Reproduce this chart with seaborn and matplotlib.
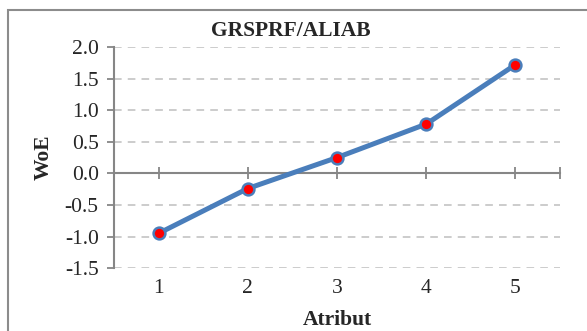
import matplotlib
matplotlib.use("Agg")
import matplotlib.pyplot as plt
import seaborn as sns
import pandas as pd
from matplotlib.patches import Rectangle

# data
atribut = [1, 2, 3, 4, 5]
woe = [-0.95, -0.24, 0.25, 0.78, 1.72]
y_ticks = [-1.5, -1.0, -0.5, 0.0, 0.5, 1.0, 1.5, 2.0]

df = pd.DataFrame({"Atribut": atribut, "WoE": woe})

sns.set_style("white")
plt.rcParams["font.family"] = ["Liberation Serif", "DejaVu Serif"]

fig = plt.figure(figsize=(5.87, 3.31), dpi=100)
ax = fig.add_axes([0.1942, 0.190, 0.7598, 0.668])

axis_gray = "#868686"
grid_gray = "#BFBFBF"

# dashed grid (zero line is drawn by the x axis)
for v in y_ticks:
    if v != 0:
        ax.axhline(v, color=grid_gray, lw=1.1, ls=(0, (5, 4)), zorder=0)

sns.lineplot(data=df, x="Atribut", y="WoE", ax=ax, color="#4A7EBB",
             linewidth=3.6, marker="o", markersize=8.5,
             markerfacecolor="red", markeredgecolor="#4A7EBB",
             markeredgewidth=1.8, zorder=3)

ax.set_xlim(0.5, 5.5)
ax.set_ylim(-1.5, 2.0)
ax.set_yticks(y_ticks)
ax.set_yticklabels([f"{v:.1f}" for v in y_ticks], fontsize=15.5)

# x axis line at zero with crossing ticks, labels at bottom
ax.spines["bottom"].set_position(("data", 0))
ax.spines["bottom"].set_color(axis_gray)
ax.spines["bottom"].set_linewidth(1.5)
ax.spines["left"].set_color(axis_gray)
ax.spines["left"].set_linewidth(1.5)
ax.spines["top"].set_visible(False)
ax.spines["right"].set_visible(False)
ax.set_xticks(atribut + [5.5])
ax.tick_params(axis="x", bottom=True, direction="inout", length=9, width=1.3,
               color=axis_gray, labelbottom=False)
ax.tick_params(axis="y", left=True, direction="out", length=5, width=1.3,
               color=axis_gray, pad=6)

sec = ax.secondary_xaxis(0)
sec.set_xticks(atribut)
sec.set_xticklabels([str(a) for a in atribut], fontsize=15.5)
sec.tick_params(length=0, pad=8)
sec.spines["bottom"].set_visible(False)

ax.set_xlabel("")
ax.set_ylabel("WoE", fontsize=15.5, fontweight="bold", labelpad=8)
fig.text(0.574, 0.033, "Atribut", ha="center", va="center",
         fontsize=15.5, fontweight="bold")
fig.text(0.496, 0.905, "GRSPRF/ALIAB", ha="center", va="center",
         fontsize=15.5, fontweight="bold")

# chart area border
fig.patches.append(Rectangle((8 / 587, -0.2), 1.2, 1.2 - 10 / 331,
                             transform=fig.transFigure, fill=False,
                             edgecolor="#8C8C8C", lw=1.5))

fig.savefig("out.png", dpi=100)
